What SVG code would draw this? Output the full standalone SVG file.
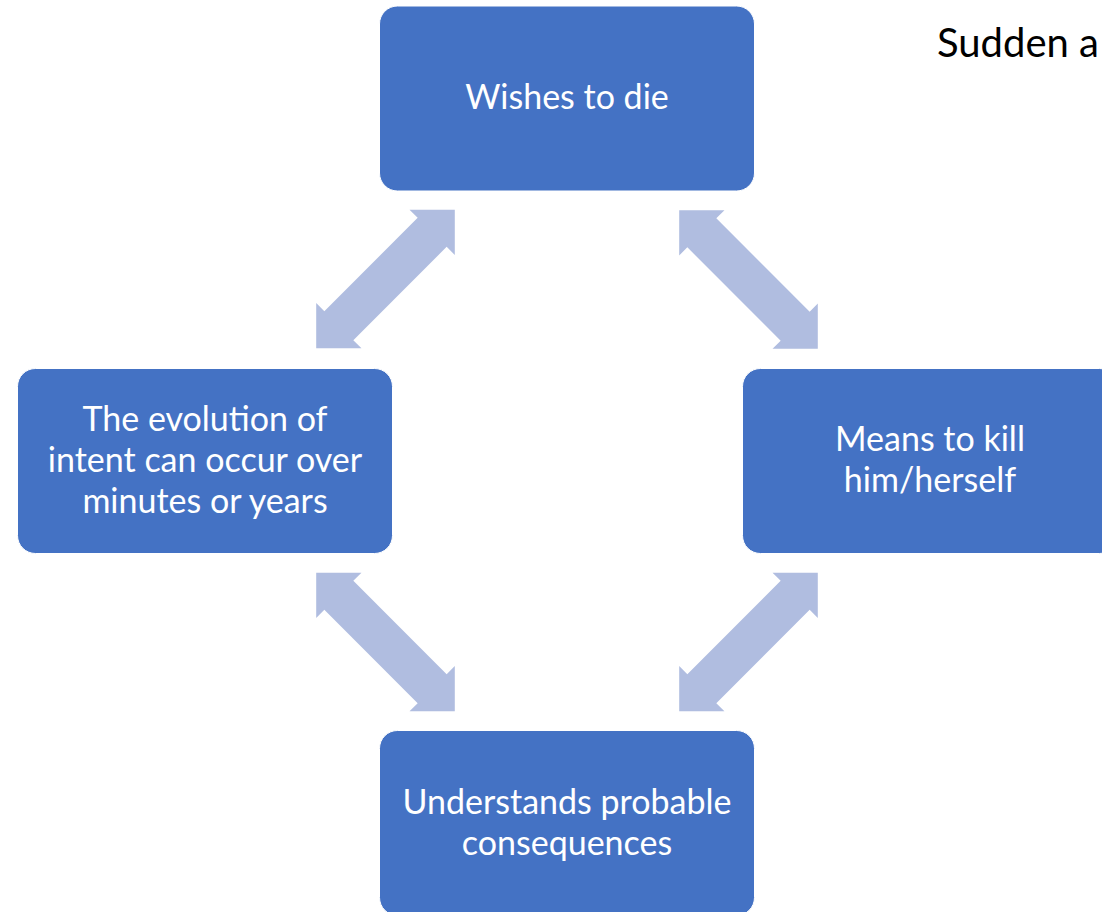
<svg xmlns="http://www.w3.org/2000/svg" xmlns:xlink="http://www.w3.org/1999/xlink" width="1102" height="912" viewBox="0 0 1102 912">
<style>
.box{fill:#4472C4;stroke:#FFFFFF;stroke-width:1}
.lbl{font-family:Lato,"Open Sans","Liberation Sans",sans-serif;font-size:34px;fill:#FFFFFF;text-anchor:middle}
.arr{fill:#B0BDE0}
.title{font-family:Lato,"Open Sans","Liberation Sans",sans-serif;font-size:40px;fill:#000000}
</style>
<defs>
<path id="dbl" d="M98,0 L66,-32 L66,-20.5 L-66,-20.5 L-66,-32 L-98,0 L-66,32 L-66,20.5 L66,20.5 L66,32 Z"/>
</defs>
<rect width="1102" height="912" fill="#FFFFFF"/>
<text class="title" x="937" y="57">Sudden a</text>
<g id="connectors" class="arr">
<use xlink:href="#dbl" href="#dbl" transform="translate(385.5,279) rotate(-45)"/>
<use xlink:href="#dbl" href="#dbl" transform="translate(748.5,279.5) rotate(45)"/>
<use xlink:href="#dbl" href="#dbl" transform="translate(385.5,642) rotate(45)"/>
<use xlink:href="#dbl" href="#dbl" transform="translate(748.5,642) rotate(-45)"/>
</g>
<g id="node-wishes">
<rect class="box" x="379.5" y="6" width="375" height="185" rx="18"/>
<text class="lbl" x="567" y="109">Wishes to die</text>
</g>
<g id="node-evolution">
<rect class="box" x="17.5" y="368.5" width="375" height="185" rx="18"/>
<text class="lbl" x="205" y="431">The evolution of</text>
<text class="lbl" x="205" y="472">intent can occur over</text>
<text class="lbl" x="205" y="513">minutes or years</text>
</g>
<g id="node-means">
<rect class="box" x="742.5" y="368.5" width="375" height="185" rx="18"/>
<text class="lbl" x="930" y="451">Means to kill</text>
<text class="lbl" x="930" y="492">him/herself</text>
</g>
<g id="node-understands">
<rect class="box" x="379.5" y="730.5" width="375" height="185" rx="18"/>
<text class="lbl" x="567" y="814">Understands probable</text>
<text class="lbl" x="567" y="855">consequences</text>
</g>
</svg>
